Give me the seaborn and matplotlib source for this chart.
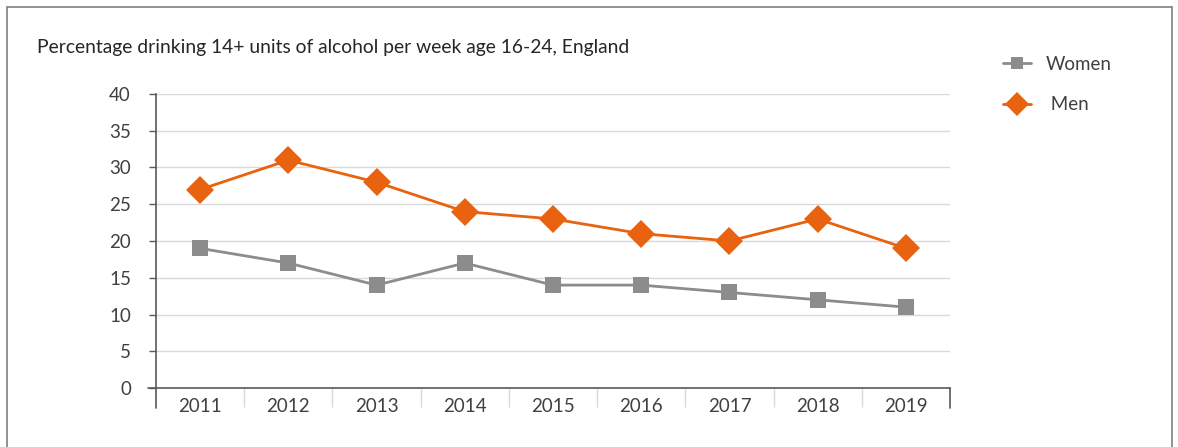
import matplotlib
matplotlib.use("Agg")
import matplotlib.pyplot as plt
import seaborn as sns
import pandas as pd
from matplotlib.patches import Rectangle
from matplotlib.lines import Line2D

years = [2011, 2012, 2013, 2014, 2015, 2016, 2017, 2018, 2019]
women = [19, 17, 14, 17, 14, 14, 13, 12, 11]
men = [27, 31, 28, 24, 23, 21, 20, 23, 19]
yticks = [0, 5, 10, 15, 20, 25, 30, 35, 40]
title = "Percentage drinking 14+ units of alcohol per week age 16-24, England"

GRAY = "#8c8c8c"
ORANGE = "#e8620f"
TEXT = "#404040"

sns.set_theme(style="white")
plt.rcParams["font.family"] = ["Lato", "DejaVu Sans"]

fig = plt.figure(figsize=(11.78, 4.47), dpi=100)
ax = fig.add_axes([156/1178, 1-388/447, (950-156)/1178, (388-94)/447])

df_w = pd.DataFrame({"year": years, "pct": women})
df_m = pd.DataFrame({"year": years, "pct": men})

sns.lineplot(data=df_w, x="year", y="pct", ax=ax, color=GRAY, marker="s",
             markersize=11, markeredgewidth=0, linewidth=2, label="Women")
sns.lineplot(data=df_m, x="year", y="pct", ax=ax, color=ORANGE, marker="D",
             markersize=14, markeredgewidth=0, linewidth=2, label=" Men")

ax.set_xlim(years[0]-0.5, years[-1]+0.5)
ax.set_ylim(0, 40)
ax.set_yticks(yticks)
ax.set_xticks(years)
ax.set_xticklabels([str(y) for y in years])
ax.set_xticks([y+0.5 for y in years[:-1]], minor=True)
ax.set_xlabel("")
ax.set_ylabel("")

ax.yaxis.grid(True, color="#d9d9d9", linewidth=1)
ax.xaxis.grid(False)
ax.set_axisbelow(True)

for s in ["top", "right"]:
    ax.spines[s].set_visible(False)
ax.spines["left"].set_color("#595959")
ax.spines["bottom"].set_color("#595959")
ax.spines["left"].set_linewidth(1.2)
ax.spines["bottom"].set_linewidth(1.2)

ax.tick_params(axis="y", which="major", direction="out", length=5, width=1,
               color="#595959", left=True, labelsize=13.5, labelcolor=TEXT, pad=13)
ax.tick_params(axis="x", which="major", length=0, labelsize=13.5, labelcolor=TEXT, pad=7)
ax.tick_params(axis="x", which="minor", direction="out", length=14, width=1,
               color="#d9d9d9", bottom=True)

# end separators (dark) below axis
for xa in (0, 1):
    ax.add_line(Line2D([xa, xa], [0, -20/294], transform=ax.transAxes,
                       color="#595959", linewidth=1.2, clip_on=False))
ax.add_line(Line2D([-8/794, 0], [0, 0], transform=ax.transAxes,
                   color="#595959", linewidth=1.2, clip_on=False))

ax.legend(loc="upper left", bbox_to_anchor=(986/1178, 1-39/447),
          bbox_transform=fig.transFigure, frameon=False, fontsize=13.5,
          labelcolor=TEXT, handlelength=1.5, labelspacing=1.25, handletextpad=0.8,
          markerscale=0.85)

fig.text(37/1178, 1-47/447, title, fontsize=13.9, color="#262626",
         ha="left", va="center")

fig.patches.append(Rectangle((7/1178, -0.1), (1172-7)/1178, 1.1-7/447,
                             transform=fig.transFigure, fill=False,
                             edgecolor="#7f7f7f", linewidth=1.2))

fig.savefig("out.png", dpi=100, facecolor="white")
